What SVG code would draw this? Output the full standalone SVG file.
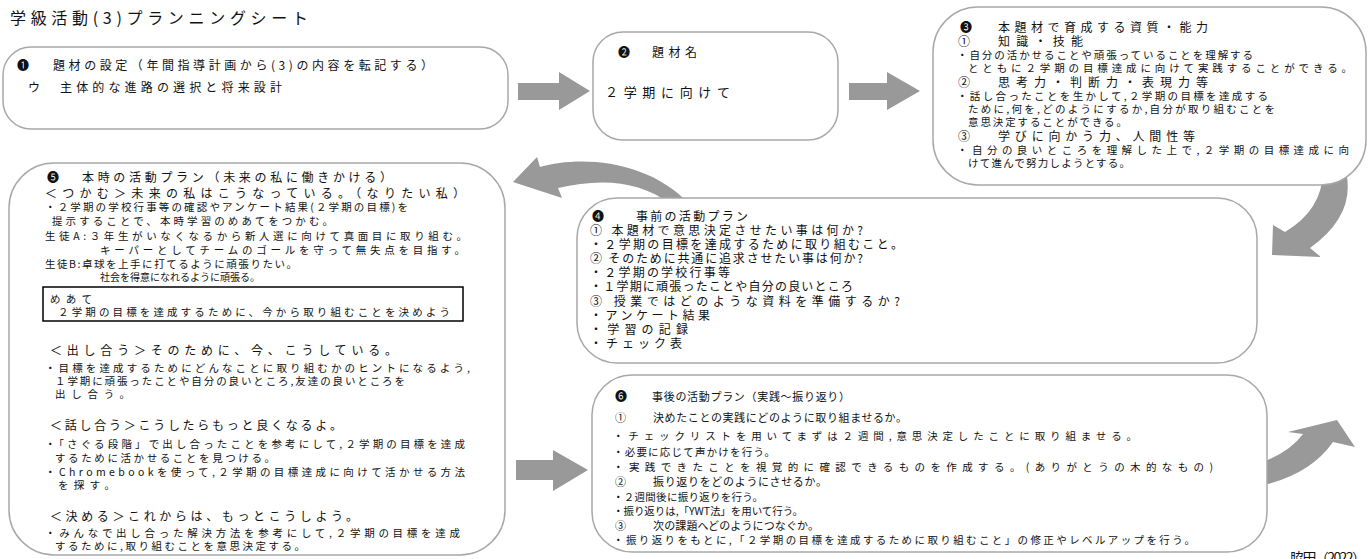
<svg xmlns="http://www.w3.org/2000/svg" width="1371" height="559" viewBox="0 0 1371 559">
<style>
text{font-family:"Noto Sans CJK JP","DejaVu Sans",sans-serif;fill:#111;font-size:10.5px}
.h{font-size:12px}
.h6{font-size:11px}
.b4{font-size:12px}
.box{fill:#fff;stroke:#a8a8a8;stroke-width:1.5}
.arr{fill:#999}
</style>
<rect width="1371" height="559" fill="#fff"/>
<text x="10" y="24" style="font-size:16px" textLength="298" lengthAdjust="spacing">学級活動(3)プランニングシート</text>
<g id="connectors">
<polygon class="arr" points="518,83 559,83 559,72 590,91 559,110 559,100 518,100"/>
<polygon class="arr" points="849,83 887,83 887,72 920,91 887,110 887,100 849,100"/>
<path class="arr" d="M1323,172 Q1322,210 1285,232 L1273,225 L1272,255 L1321,257 L1310,248 Q1356,215 1346,172 Z"/>
<path class="arr" d="M540,167 C580,155 650,160 690,205 L672,205 C640,180 600,178 558,188 L562,198 L513,182 L537,157 Z"/>
<polygon class="arr" points="516,460 553,460 553,450 588,470 553,491 553,480 516,480"/>
<path class="arr" d="M1260,463 Q1290,452 1303,434 L1288,432 L1337,420 L1355,447 L1333,442 Q1310,475 1260,486 Z"/>
</g>
<g id="node1">
<rect class="box" x="3" y="47" width="505" height="82" rx="28"/>
<text class="h" x="17" y="69.5">❶</text>
<text class="h" x="53" y="69.5" textLength="380" lengthAdjust="spacing">題材の設定（年間指導計画から(3)の内容を転記する）</text>
<text class="h" x="28" y="91.5">ウ</text>
<text class="h" x="60" y="91.5" textLength="222" lengthAdjust="spacing">主体的な進路の選択と将来設計</text>
</g>
<g id="node2">
<rect class="box" x="593" y="32" width="245" height="108" rx="30"/>
<text class="h" x="618" y="56.5">❷</text>
<text class="h" x="652" y="56.5" textLength="45" lengthAdjust="spacing">題材名</text>
<text x="605" y="97" style="font-size:13px" textLength="125" lengthAdjust="spacing">２学期に向けて</text>
</g>
<g id="node3">
<rect class="box" x="933" y="7" width="433" height="178" rx="45"/>
<text class="h" x="960" y="31.5">❸</text>
<text class="h" x="998" y="31.5" textLength="210" lengthAdjust="spacing">本題材で育成する資質・能力</text>
<text class="h" x="958" y="45.5">①</text>
<text class="h" x="998" y="45.5" textLength="85" lengthAdjust="spacing">知識・技能</text>
<text x="957" y="59" textLength="296" lengthAdjust="spacing">・自分の活かせることや頑張っていることを理解する</text>
<text x="968" y="72" textLength="384" lengthAdjust="spacing">とともに２学期の目標達成に向けて実践することができる。</text>
<text class="h" x="958" y="86.5">②</text>
<text class="h" x="998" y="86.5" textLength="210" lengthAdjust="spacing">思考力・判断力・表現力等</text>
<text x="957" y="100" textLength="311" lengthAdjust="spacing">・話し合ったことを生かして,２学期の目標を達成する</text>
<text x="968" y="113" textLength="307" lengthAdjust="spacing">ために,何を,どのようにするか,自分が取り組むことを</text>
<text x="968" y="126" textLength="159" lengthAdjust="spacing">意思決定することができる。</text>
<text class="h" x="958" y="140.5">③</text>
<text class="h" x="998" y="140.5" textLength="197" lengthAdjust="spacing">学びに向かう力、人間性等</text>
<text x="957" y="154" textLength="392" lengthAdjust="spacing">・自分の良いところを理解した上で,２学期の目標達成に向</text>
<text x="968" y="167" textLength="162" lengthAdjust="spacing">けて進んで努力しようとする。</text>
</g>
<g id="node4">
<rect class="box" x="577" y="198" width="680" height="165" rx="40"/>
<text class="b4" x="592" y="220.5">❹</text>
<text class="b4" x="636" y="220.5" textLength="112" lengthAdjust="spacing">事前の活動プラン</text>
<text class="b4" x="590" y="234.5" textLength="273" lengthAdjust="spacing">① 本題材で意思決定させたい事は何か?</text>
<text class="b4" x="590" y="248.5" textLength="313" lengthAdjust="spacing">・２学期の目標を達成するために取り組むこと。</text>
<text class="b4" x="590" y="263" textLength="273" lengthAdjust="spacing">② そのために共通に追求させたい事は何か?</text>
<text class="b4" x="590" y="277" textLength="140" lengthAdjust="spacing">・２学期の学校行事等</text>
<text class="b4" x="590" y="291" textLength="263" lengthAdjust="spacing">・１学期に頑張ったことや自分の良いところ</text>
<text class="b4" x="590" y="305.5" textLength="310" lengthAdjust="spacing">③ 授業ではどのような資料を準備するか?</text>
<text class="b4" x="590" y="319.5" textLength="120" lengthAdjust="spacing">・アンケート結果</text>
<text class="b4" x="590" y="334" textLength="98" lengthAdjust="spacing">・学習の記録</text>
<text class="b4" x="590" y="348" textLength="92" lengthAdjust="spacing">・チェック表</text>
</g>
<g id="node5">
<rect class="box" x="9" y="163" width="496" height="392" rx="45"/>
<text class="h" x="47" y="181.5">❺</text>
<text class="h" x="82" y="181.5" textLength="310" lengthAdjust="spacing">本時の活動プラン（未来の私に働きかける）</text>
<text class="h" x="45" y="197.5" textLength="420" lengthAdjust="spacing">＜つかむ＞未来の私はこうなっている。（なりたい私）</text>
<text x="45" y="211" textLength="363" lengthAdjust="spacing">・２学期の学校行事等の確認やアンケート結果(２学期の目標)を</text>
<text x="52" y="225" textLength="281" lengthAdjust="spacing">提示することで、本時学習のめあてをつかむ。</text>
<text x="45" y="240" textLength="422" lengthAdjust="spacing">生徒A:３年生がいなくなるから新人選に向けて真面目に取り組む。</text>
<text x="100" y="254" textLength="365" lengthAdjust="spacing">キーパーとしてチームのゴールを守って無失点を目指す。</text>
<text x="45" y="268" textLength="252" lengthAdjust="spacing">生徒B:卓球を上手に打てるように頑張りたい。</text>
<text x="100" y="281" style="font-size:10px" textLength="160" lengthAdjust="spacing">社会を得意になれるように頑張る。</text>
<rect x="43" y="287" width="420" height="34" fill="none" stroke="#000" stroke-width="1.5"/>
<text x="50" y="303" textLength="42" lengthAdjust="spacing">めあて</text>
<text x="58" y="316" textLength="392" lengthAdjust="spacing">２学期の目標を達成するために、今から取り組むことを決めよう</text>
<text class="h" x="50" y="355" textLength="347" lengthAdjust="spacing">＜出し合う＞そのために、今、こうしている。</text>
<text x="45" y="372" textLength="425" lengthAdjust="spacing">・目標を達成するためにどんなことに取り組むかのヒントになるよう,</text>
<text x="55" y="385" textLength="350" lengthAdjust="spacing">１学期に頑張ったことや自分の良いところ,友達の良いところを</text>
<text x="55" y="398" textLength="75" lengthAdjust="spacing">出し合う。</text>
<text class="h" x="50" y="429.5" textLength="292" lengthAdjust="spacing">＜話し合う＞こうしたらもっと良くなるよ。</text>
<text x="45" y="448" textLength="420" lengthAdjust="spacing">・「さぐる段階」で出し合ったことを参考にして,２学期の目標を達成</text>
<text x="55" y="462" textLength="220" lengthAdjust="spacing">するために活かせることを見つける。</text>
<text x="45" y="476" textLength="420" lengthAdjust="spacing">・Chromebookを使って,２学期の目標達成に向けて活かせる方法</text>
<text x="58" y="489" textLength="57" lengthAdjust="spacing">を探す。</text>
<text class="h" x="50" y="520.5" textLength="308" lengthAdjust="spacing">＜決める＞これからは、もっとこうしよう。</text>
<text x="45" y="537" textLength="415" lengthAdjust="spacing">・みんなで出し合った解決方法を参考にして,２学期の目標を達成</text>
<text x="55" y="550" textLength="250" lengthAdjust="spacing">するために,取り組むことを意思決定する。</text>
</g>
<g id="node6">
<rect class="box" x="592" y="375" width="675" height="177" rx="40"/>
<text class="h" x="615" y="400.5">❻</text>
<text class="h6" x="652" y="400.5" textLength="198" lengthAdjust="spacing">事後の活動プラン（実践～振り返り）</text>
<text class="h6" x="615" y="421.5">①</text>
<text class="h6" x="653" y="421.5" textLength="254" lengthAdjust="spacing">決めたことの実践にどのように取り組ませるか。</text>
<text x="613" y="440" textLength="524" lengthAdjust="spacing">・チェックリストを用いてまずは２週間,意思決定したことに取り組ませる。</text>
<text x="613" y="456" textLength="162" lengthAdjust="spacing">・必要に応じて声かけを行う。</text>
<text x="613" y="471" textLength="600" lengthAdjust="spacing">・実践できたことを視覚的に確認できるものを作成する。(ありがとうの木的なもの)</text>
<text class="h6" x="615" y="486">②</text>
<text class="h6" x="653" y="486" textLength="174" lengthAdjust="spacing">振り返りをどのようにさせるか。</text>
<text x="613" y="501" textLength="150" lengthAdjust="spacing">・２週間後に振り返りを行う。</text>
<text x="613" y="515" textLength="190" lengthAdjust="spacing">・振り返りは,「YWT法」を用いて行う。</text>
<text class="h6" x="615" y="530">③</text>
<text class="h6" x="653" y="530" textLength="166" lengthAdjust="spacing">次の課題へどのようにつなぐか。</text>
<text x="613" y="544" textLength="582" lengthAdjust="spacing">・振り返りをもとに,「２学期の目標を達成するために取り組むこと」の修正やレベルアップを行う。</text>
</g>
<text x="1290" y="563" style="font-size:14px" textLength="76" lengthAdjust="spacing">脇田（2022）</text>
</svg>
